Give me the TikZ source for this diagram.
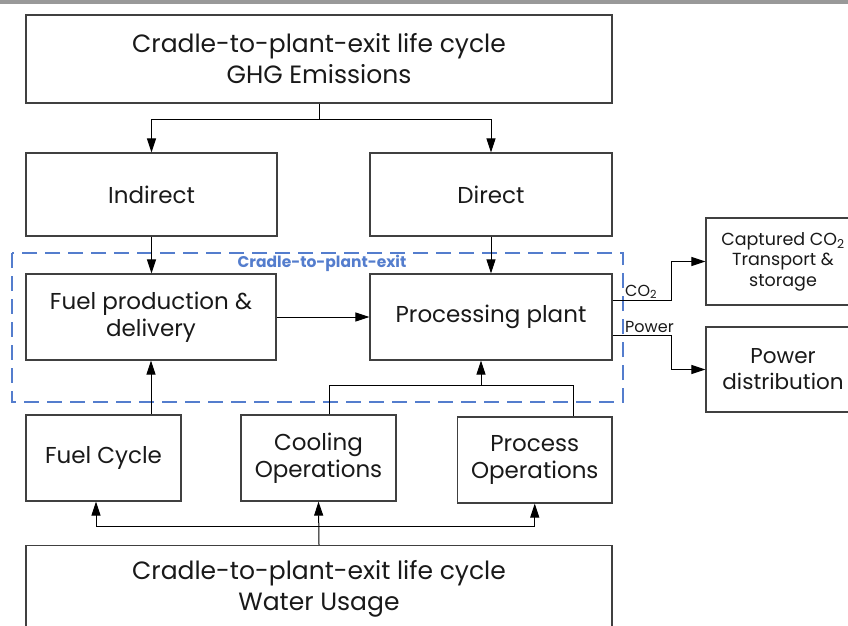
\documentclass[tikz,border=0pt]{standalone}
\usepackage{fontspec}
\setmainfont{Poppins}
\usetikzlibrary{arrows.meta}
\definecolor{azulmarco}{RGB}{84,125,205}
\tikzset{
  caja/.style={draw=black!75, line width=1.2pt, align=center, inner sep=0pt, text=black!90, font=\fontsize{23}{27}\selectfont},
  flecha/.style={-{Triangle[length=14pt,width=9pt]}, line width=1pt},
  linea/.style={line width=1pt},
  etiq/.style={inner sep=0pt, text=black!90, font=\fontsize{16}{18}\selectfont},
}
\begin{document}
\begin{tikzpicture}[x=1pt, y=-1pt]
        \useasboundingbox (0,0) rectangle (848,625);
        \clip (0,0) rectangle (848,625);

        % Barra superior
        \fill[black!40] (0,0) rectangle (848,4);

        % Cajas principales
        \node[caja, minimum width=586pt, minimum height=88pt, font=\fontsize{25}{31}\selectfont] (ghg) at (319,59) {Cradle-to-plant-exit life cycle\\GHG Emissions};
        \node[caja, minimum width=251pt, minimum height=83pt] (ind) at (151.5,194.5) {Indirect};
        \node[caja, minimum width=242pt, minimum height=83pt] (dir) at (491,194.5) {Direct};
        \node[caja, minimum width=250pt, minimum height=86pt] (prod) at (151,317) {Fuel production \&\\delivery};
        \node[caja, minimum width=242pt, minimum height=86pt] (planta) at (491,317) {Processing plant};
        \node[caja, minimum width=155pt, minimum height=86pt] (ciclo) at (103.5,458) {Fuel Cycle};
        \node[caja, minimum width=155pt, minimum height=86pt] (enfr) at (318.5,458) {Cooling\\Operations};
        \node[caja, minimum width=154.5pt, minimum height=86pt] (procop) at (534.75,460) {Process\\Operations};
        \node[caja, minimum width=586pt, minimum height=86pt, font=\fontsize{25}{31}\selectfont] (agua) at (319,588.5) {Cradle-to-plant-exit life cycle\\Water Usage};

        % Cajas de salida
        \node[caja, minimum width=154pt, minimum height=87pt, font=\fontsize{17.5}{20.5}\selectfont] (capt) at (783,261.5) {Captured CO\textsubscript{2}\\Transport \&\\storage};
        \node[caja, minimum width=154pt, minimum height=85pt, font=\fontsize{21.5}{26}\selectfont] (dist) at (783,369.5) {Power\\distribution};

        % Marco cradle-to-plant-exit
        \draw[azulmarco, line width=1.6pt, dash pattern=on 15pt off 8pt] (12,253) rectangle (623,402);
        \node[inner sep=0pt, text=azulmarco, font=\fontsize{15.5}{17}\selectfont\bfseries] (marco) at (322,263) {Cradle-to-plant-exit};

        % Emisiones GHG
        \coordinate (rama) at (319,119);
        \draw[linea] (ghg.south) -- (rama);
        \draw[flecha] (rama) -| (ind.north);
        \draw[flecha] (rama) -| (dir.north);
        \draw[flecha] (ind.south) -- (ind.south |- prod.north);
        \draw[flecha] (dir.south) -- (planta.north);
        \draw[flecha] (prod.east) -- (planta.west);
        \draw[flecha] (ciclo.north -| prod.south) -- (prod.south);

        % Agua de enfriamiento y de proceso
        \coordinate (rama2) at (481,385.5);
        \draw[linea] ([xshift=10.5pt]enfr.north) |- ([xshift=39pt]procop.north |- rama2) -- ([xshift=39pt]procop.north);
        \draw[flecha] (rama2) -- (rama2 |- planta.south);

        % Uso de agua
        \coordinate (rama3) at (319,526);
        \draw[flecha] (agua.north) -- (enfr.south);
        \draw[flecha] (rama3) -| ([xshift=-7.5pt]ciclo.south);
        \draw[flecha] (rama3) -| (procop.south);

        % Salidas de la planta
        \draw[flecha] ([yshift=17pt]planta.east) -- ++(59,0) |- (capt.west);
        \draw[flecha] ([yshift=-18pt]planta.east) -- ++(59,0) |- (dist.west);
        \node[etiq, anchor=south west] (eco2) at (625,299) {CO\textsubscript{2}};
        \node[etiq, anchor=south west] (epot) at (625,333) {Power};
    \end{tikzpicture}
\end{document}
